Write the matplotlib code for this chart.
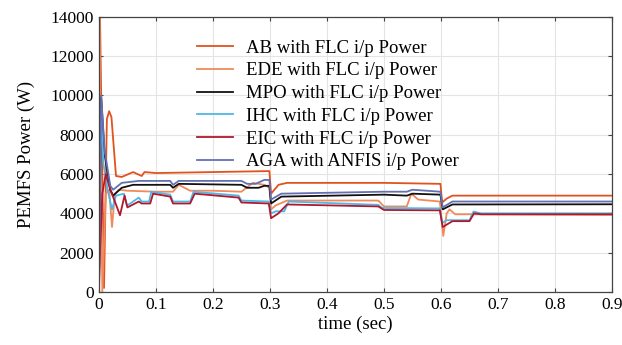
import matplotlib
matplotlib.use("Agg")
import matplotlib.pyplot as plt
import numpy as np

plt.rcParams['font.family'] = ['Liberation Serif', 'DejaVu Serif']

# breakpoints (time in sec, power in W)
t_ab = [0, 0.002, 0.006, 0.009, 0.014, 0.018, 0.022, 0.03, 0.04, 0.06, 0.075, 0.08, 0.1,
        0.2, 0.299, 0.302, 0.315, 0.33, 0.5, 0.599, 0.602, 0.61, 0.62, 0.9]
p_ab = [0, 14000, 6000, 200, 8800, 9200, 8900, 5900, 5850, 6100, 5900, 6100, 6050,
        6100, 6150, 5000, 5450, 5550, 5550, 5500, 4550, 4750, 4900, 4900]

t_ede = [0, 0.001, 0.003, 0.006, 0.012, 0.018, 0.023, 0.028, 0.035, 0.05, 0.1, 0.13, 0.14,
         0.16, 0.2, 0.25, 0.27, 0.29, 0.299, 0.302, 0.31, 0.33, 0.49, 0.5, 0.54, 0.548,
         0.56, 0.598, 0.602, 0.604, 0.61, 0.615, 0.625, 0.65, 0.9]
p_ede = [0, 14000, 7000, 0, 5000, 5200, 3300, 5000, 5200, 5150, 5100, 5100, 5450,
         5150, 5150, 5100, 5550, 5450, 5300, 4200, 4400, 4650, 4650, 4350, 4350, 5000,
         4700, 4600, 3400, 2850, 4000, 4200, 3950, 3950, 3920]

t_mpo = [0, 0.004, 0.01, 0.02, 0.025, 0.04, 0.06, 0.125, 0.13, 0.14, 0.25, 0.26, 0.28,
         0.29, 0.299, 0.302, 0.32, 0.5, 0.54, 0.55, 0.599, 0.603, 0.62, 0.9]
p_mpo = [0, 9900, 7000, 5200, 4900, 5300, 5450, 5450, 5300, 5500, 5450, 5300, 5300,
         5400, 5400, 4500, 4850, 4950, 4900, 5000, 4950, 4200, 4450, 4460]

t_ihc = [0, 0.001, 0.004, 0.008, 0.016, 0.023, 0.03, 0.044, 0.049, 0.055, 0.07, 0.075,
         0.088, 0.092, 0.125, 0.13, 0.16, 0.166, 0.245, 0.25, 0.298, 0.302, 0.31, 0.325,
         0.333, 0.49, 0.497, 0.598, 0.602, 0.61, 0.65, 0.657, 0.67, 0.9]
p_ihc = [0, 6000, 8800, 6500, 5100, 4200, 4900, 5000, 4400, 4500, 4800, 4600,
         4600, 5100, 4950, 4600, 4600, 5100, 4900, 4650, 4600, 4000, 4100, 4100,
         4600, 4430, 4270, 4250, 3500, 3650, 3650, 4090, 4000, 4000]

t_eic = [0, 0.002, 0.006, 0.012, 0.02, 0.028, 0.037, 0.045, 0.05, 0.07, 0.075, 0.09,
         0.095, 0.125, 0.13, 0.16, 0.168, 0.245, 0.25, 0.298, 0.302, 0.315, 0.33, 0.49,
         0.5, 0.598, 0.603, 0.62, 0.65, 0.658, 0.67, 0.9]
p_eic = [0, 2000, 5000, 6000, 5200, 4600, 3900, 4900, 4300, 4600, 4500, 4500,
         5000, 4850, 4500, 4500, 5000, 4800, 4550, 4500, 3750, 4000, 4450, 4350,
         4170, 4150, 3300, 3600, 3600, 4000, 3950, 3950]

t_aga = [0, 0.004, 0.01, 0.02, 0.025, 0.04, 0.07, 0.125, 0.13, 0.14, 0.25, 0.26, 0.275,
         0.29, 0.299, 0.302, 0.32, 0.5, 0.54, 0.55, 0.599, 0.603, 0.62, 0.9]
p_aga = [0, 10000, 7200, 5400, 5200, 5550, 5650, 5650, 5450, 5650, 5650, 5500, 5500,
         5700, 5700, 4700, 5000, 5100, 5100, 5200, 5100, 4300, 4600, 4600]

series = [
    ("AB with FLC i/p Power", t_ab, p_ab, "#e0521e"),
    ("EDE with FLC i/p Power", t_ede, p_ede, "#f08a5a"),
    ("MPO with FLC i/p Power", t_mpo, p_mpo, "#111111"),
    ("IHC with FLC i/p Power", t_ihc, p_ihc, "#4db8e8"),
    ("EIC with FLC i/p Power", t_eic, p_eic, "#b0182e"),
    ("AGA with ANFIS i/p Power", t_aga, p_aga, "#6470b4"),
]

fig = plt.figure(figsize=(6.22, 3.45), dpi=100)
ax = fig.add_axes([0.159, 0.154, 0.825, 0.797])

for label, t, p, c in series:
    ax.plot(t, p, color=c, lw=1.3, label=label)

ax.set_xlim(0, 0.9)
ax.set_ylim(0, 14000)
ax.set_xticks(np.arange(0, 0.91, 0.1))
ax.set_xticklabels(["0"] + ["%.1f" % v for v in np.arange(0.1, 0.91, 0.1)])
ax.set_yticks(np.arange(0, 14001, 2000))
ax.tick_params(direction='in', labelsize=12.5, length=3, color='#444444', top=True, right=True)
ax.grid(True, color='#e4e4e4', lw=0.8)
for s in ax.spines.values():
    s.set_color('#444444')
    s.set_linewidth(0.9)

ax.set_xlabel("time (sec)", fontsize=13.5, labelpad=2)
ax.set_ylabel("PEMFS Power (W)", fontsize=13.5, labelpad=11)

ax.legend(loc='upper left', bbox_to_anchor=(0.177, 0.945), frameon=False, fontsize=13.5,
          handlelength=1.9, handletextpad=0.7, labelspacing=0.3, borderaxespad=0)

fig.savefig("out.png", dpi=100)
